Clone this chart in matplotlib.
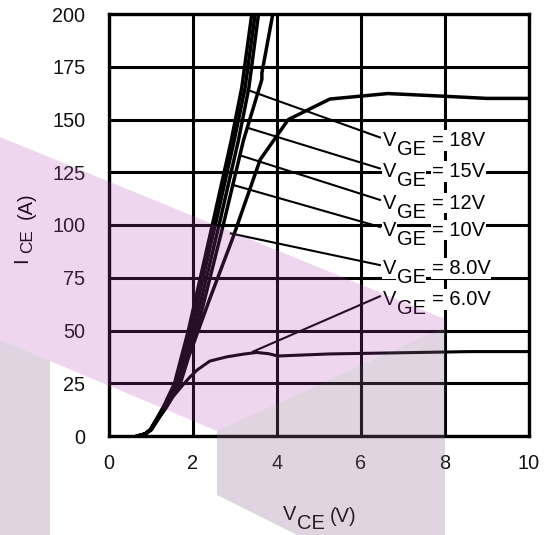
import matplotlib
matplotlib.use('Agg')
import matplotlib.pyplot as plt
from matplotlib.transforms import offset_copy
from matplotlib.patches import Polygon

plt.rcParams['font.family'] = ['Liberation Sans', 'DejaVu Sans']

# ---------------- data ----------------
x_ticks = [0, 2, 4, 6, 8, 10]
y_ticks = [0, 25, 50, 75, 100, 125, 150, 175, 200]

# steep curves: V_CE at given I_CE
ice_steep = [0, 1, 3, 8, 14, 25, 50, 100, 140, 165, 200]
vce_18v = [0.68, 0.86, 0.98, 1.13, 1.30, 1.56, 1.89, 2.46, 2.91, 3.16, 3.40]
vce_15v = [0.68, 0.86, 0.99, 1.14, 1.32, 1.60, 1.95, 2.53, 2.98, 3.24, 3.48]
vce_12v = [0.68, 0.87, 1.00, 1.16, 1.35, 1.65, 2.02, 2.62, 3.08, 3.33, 3.56]

vce_10v = [0.68, 0.87, 1.01, 1.17, 1.37, 1.70, 2.09, 2.72, 3.20, 3.64, 3.64, 3.90]
ice_10v = [0, 1, 3, 8, 14, 25, 50, 100, 140, 169, 172, 200]

vce_8v = [0.68, 0.86, 0.99, 1.16, 1.36, 1.62, 1.98, 2.38, 2.95, 3.60, 4.27, 5.26, 6.64, 8.0, 9.0, 10.0]
ice_8v = [0, 1, 3, 8, 14, 25, 42, 64, 94, 131, 150, 159.7, 162.3, 161, 160, 160]

vce_6v = [0.68, 0.86, 0.99, 1.16, 1.35, 1.52, 1.75, 1.93, 2.10, 2.40, 2.80, 3.20, 3.52,
          3.80, 4.02, 4.50, 5.26, 6.50, 8.60, 10.0]
ice_6v = [0, 1, 3, 8, 13, 18.5, 24, 28, 31.3, 35.5, 37.5, 38.8, 39.6,
          39.0, 37.9, 38.3, 38.9, 39.3, 40.0, 40.0]

# labels and leader anchor points
label_values = ['18V', '15V', '12V', '10V', '8.0V', '6.0V']
anchor_v = [3.30, 3.31, 3.12, 2.95, 2.90, 3.43]
anchor_i = [164, 146, 133, 119, 96, 40]
label_v = 6.52
label_i = [140, 125.3, 110.4, 97.6, 79.5, 64.7]

# ---------------- figure ----------------
W, H = 552, 535
fig = plt.figure(figsize=(W / 100, H / 100), dpi=100)
ax = fig.add_axes([109 / W, (H - 436) / H, 420 / W, 422 / H])

ax.set_xlim(0, 10)
ax.set_ylim(0, 200)
ax.set_xticks(x_ticks)
ax.set_yticks(y_ticks)
ax.tick_params(length=0, labelsize=14.3, colors='#111111')
ax.tick_params(axis='y', pad=17)
ax.tick_params(axis='x', pad=13)
for s in ax.spines.values():
    s.set_linewidth(2.4)
    s.set_color('black')
ax.grid(True, color='black', linewidth=2.2)
ax.set_axisbelow(True)

lw = 2.5
ax.plot(vce_18v, ice_steep, color='black', lw=lw, solid_joinstyle='round')
ax.plot(vce_15v, ice_steep, color='black', lw=lw, solid_joinstyle='round')
ax.plot(vce_12v, ice_steep, color='black', lw=lw, solid_joinstyle='round')
ax.plot(vce_10v, ice_10v, color='black', lw=lw, solid_joinstyle='round')
ax.plot(vce_8v, ice_8v, color='black', lw=lw, solid_joinstyle='round')
ax.plot(vce_6v, ice_6v, color='black', lw=2.2, solid_joinstyle='round')

fs = 14.5
bb = dict(facecolor='white', edgecolor='none', pad=0.6)
for val, av, ai, li in zip(label_values, anchor_v, anchor_i, label_i):
    ax.plot([av, 6.45], [ai, li + 1.5], color='black', lw=1.5, zorder=3)
    ax.text(label_v, li, 'V', ha='left', va='center', fontsize=fs, bbox=bb, zorder=5)
    t2 = offset_copy(ax.transData, fig=fig, x=13.7, y=-9, units='dots')
    ax.text(label_v, li, 'GE', ha='left', va='center', fontsize=fs, bbox=bb,
            transform=t2, zorder=5)
    t3 = offset_copy(ax.transData, fig=fig, x=49, y=0, units='dots')
    ax.text(label_v, li, '= ' + val, ha='left', va='center', fontsize=fs, bbox=bb,
            transform=t3, zorder=5)

# axis labels (pieces, subscripts nearly full size)
def fx(px):
    return px / W

def fy(py):
    return 1 - py / H

fig.text(fx(283), fy(515), 'V', ha='left', va='center', fontsize=fs)
fig.text(fx(297), fy(523.5), 'CE', ha='left', va='center', fontsize=fs)
fig.text(fx(330), fy(517), '(V)', ha='left', va='center', fontsize=fs)

fig.text(fx(22), fy(260), 'I', ha='center', va='center', fontsize=fs, rotation=90)
fig.text(fx(28), fy(241), 'CE', ha='center', va='center', fontsize=fs * 0.85, rotation=90)
fig.text(fx(26.5), fy(205.5), '(A)', ha='center', va='center', fontsize=fs, rotation=90)

# watermark overlay
def poly(pts, color, alpha):
    p = Polygon([(fx(a), fy(b)) for a, b in pts], closed=True, transform=fig.transFigure,
                facecolor=color, edgecolor='none', alpha=alpha, zorder=10)
    fig.add_artist(p)

pink = (185 / 255, 69 / 255, 185 / 255)
gray = (144 / 255, 101 / 255, 144 / 255)
poly([(0, 137), (445, 319), (445, 327), (217, 431), (50, 361), (0, 340)], pink, 0.216)
poly([(0, 340), (50, 361), (50, 535), (0, 535)], gray, 0.278)
poly([(217, 431), (445, 327), (445, 535), (297, 535), (217, 495)], gray, 0.278)

fig.savefig('out.png', dpi=100)
